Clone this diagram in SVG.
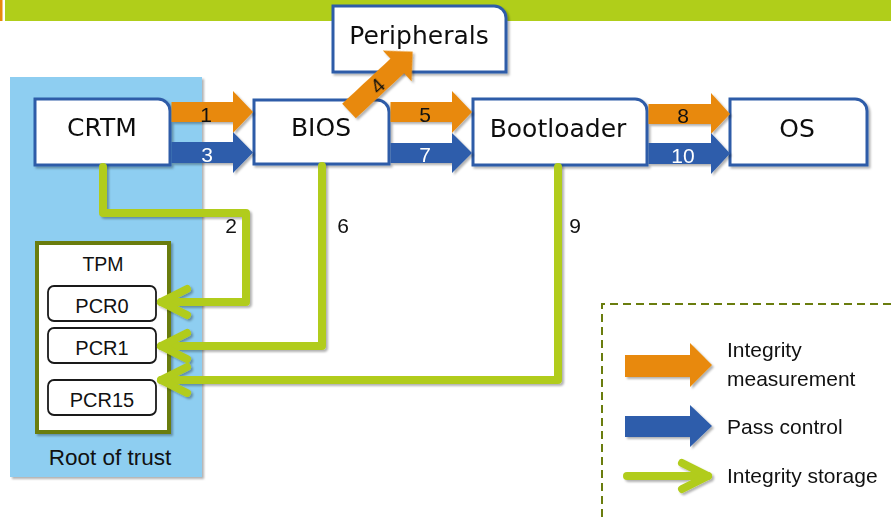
<svg xmlns="http://www.w3.org/2000/svg" width="891" height="517" viewBox="0 0 891 517">
<style>
  .lbl { font-family: "Liberation Sans", Arial, sans-serif; fill: #111; text-anchor: middle; }
  .node-text { font-family: "DejaVu Sans", "Liberation Sans", sans-serif; font-size: 25px; }
  .box { fill: #fff; stroke: #2E5CA8; stroke-width: 3; }
  .pcr { fill: #fff; stroke: #1a1a1a; stroke-width: 1.8; }
  .num { font-size: 21px; }
  .wnum { fill: #fff; }
  .orange { fill: #E8890C; }
  .blue { fill: #2D5DAB; }
  .store { fill: none; stroke: #B1CC1B; stroke-width: 8; stroke-linejoin: round; stroke-linecap: round; }
  .leg { font-family: "Liberation Sans", Arial, sans-serif; font-size: 21px; fill: #111; }
</style>
<defs>
  <filter id="sh" x="-10%" y="-10%" width="130%" height="130%">
    <feDropShadow dx="2" dy="2" stdDeviation="1.2" flood-color="#000" flood-opacity="0.3"/>
  </filter>
  <marker id="chev" markerUnits="userSpaceOnUse" viewBox="-32 -20 40 40" refX="0" refY="0" markerWidth="40" markerHeight="40" orient="auto">
    <path d="M-26,-13 L0,0 L-26,13" fill="none" stroke="#B1CC1B" stroke-width="8" stroke-linecap="round" stroke-linejoin="round"/>
  </marker>
</defs>

<g id="header">
  <rect x="0" y="0" width="2.5" height="21" fill="#E8890C"/>
  <rect x="5" y="0" width="886" height="21" fill="#B0CE1A"/>
</g>

<g id="root-of-trust">
  <rect x="10" y="77" width="192" height="400" fill="#8ECEF1" filter="url(#sh)"/>
  <text class="lbl" x="110" y="465" font-size="22.5">Root of trust</text>
</g>

<g id="crtm" filter="url(#sh)">
  <path class="box" d="M35,99 H158 A12,12 0 0 1 170,111 V165 H35 Z"/>
  <text class="lbl node-text" x="102" y="136">CRTM</text>
</g>

<g id="tpm">
  <rect x="37" y="243" width="132" height="189" fill="#fff" stroke="#6A7D0E" stroke-width="4" filter="url(#sh)"/>
  <text class="lbl" x="103" y="271" font-size="19.5">TPM</text>
</g>
<g id="pcr0">
  <rect class="pcr" x="48" y="286" width="108" height="35" rx="6"/>
  <text class="lbl" x="102" y="313" font-size="20">PCR0</text>
</g>
<g id="pcr1">
  <rect class="pcr" x="48" y="328" width="108" height="35" rx="6"/>
  <text class="lbl" x="102" y="355" font-size="20">PCR1</text>
</g>
<g id="pcr15">
  <rect class="pcr" x="48" y="380" width="108" height="35" rx="6"/>
  <text class="lbl" x="102" y="407" font-size="20">PCR15</text>
</g>

<g id="bios" filter="url(#sh)">
  <path class="box" d="M254,100 H377 A12,12 0 0 1 389,112 V164 H254 Z"/>
  <text class="lbl node-text" x="321" y="136">BIOS</text>
</g>

<g id="peripherals" filter="url(#sh)">
  <path class="box" d="M333,6 H494 A12,12 0 0 1 506,18 V72 H333 Z"/>
  <text class="lbl node-text" x="419" y="44">Peripherals</text>
</g>

<g id="bootloader" filter="url(#sh)">
  <path class="box" d="M473,99 H635 A12,12 0 0 1 647,111 V165 H473 Z"/>
  <text class="lbl node-text" x="558" y="137">Bootloader</text>
</g>

<g id="os" filter="url(#sh)">
  <path class="box" d="M730,99 H855 A12,12 0 0 1 867,111 V165 H730 Z"/>
  <text class="lbl node-text" x="797" y="137">OS</text>
</g>

<g id="connectors">
  <g filter="url(#sh)">
    <polygon class="orange" points="171.5,102 233,102 233,91 253,112 233,133 233,122 171.5,122"/>
    <polygon class="blue" points="171.5,142 233,142 233,132 253,152.5 233,173 233,163 171.5,163"/>
    <polygon class="orange" points="390.5,102 452,102 452,91 472,112 452,133 452,122 390.5,122"/>
    <polygon class="blue" points="390.5,143 452,143 452,133 472,153 452,173 452,163 390.5,163"/>
    <polygon class="orange" points="648.5,104 711,104 711,93 730,114 711,134 711,124 648.5,124"/>
    <polygon class="blue" points="648.5,143 711,143 711,133 730,153.5 711,174 711,164 648.5,164"/>
    <g transform="translate(349,111) rotate(-43)">
      <polygon class="orange" points="0,-10 66,-10 66,-21 87,0 66,21 66,10 0,10"/>
      <text class="lbl num" x="38" y="7.5">4</text>
    </g>
    <path class="store" d="M103,167 V213 H246 V302 H161" marker-end="url(#chev)"/>
    <path class="store" d="M322,166 V346 H161" marker-end="url(#chev)"/>
    <path class="store" d="M558,167 V380 H161" marker-end="url(#chev)"/>
  </g>
  <text class="lbl num" x="206" y="122">1</text>
  <text class="lbl num wnum" x="207" y="162">3</text>
  <text class="lbl num" x="425" y="122">5</text>
  <text class="lbl num wnum" x="425" y="162">7</text>
  <text class="lbl num" x="683" y="123">8</text>
  <text class="lbl num wnum" x="683" y="163">10</text>
  <text class="lbl num" x="231" y="233">2</text>
  <text class="lbl num" x="343" y="233">6</text>
  <text class="lbl num" x="575" y="233">9</text>
</g>

<g id="legend">
  <path d="M602,517 V304 H891" fill="none" stroke="#6A7D0E" stroke-width="2" stroke-dasharray="8 5"/>
  <g filter="url(#sh)">
    <polygon class="orange" points="625,355 690,355 690,343 712,365 690,387 690,377 625,377"/>
    <polygon class="blue" points="625,416 690,416 690,405 712,426 690,447 690,437 625,437"/>
    <path class="store" d="M627,476 H708" marker-end="url(#chev)"/>
  </g>
  <text class="leg" x="727" y="357">Integrity</text>
  <text class="leg" x="727" y="386">measurement</text>
  <text class="leg" x="727" y="434">Pass control</text>
  <text class="leg" x="727" y="483">Integrity storage</text>
</g>
</svg>
